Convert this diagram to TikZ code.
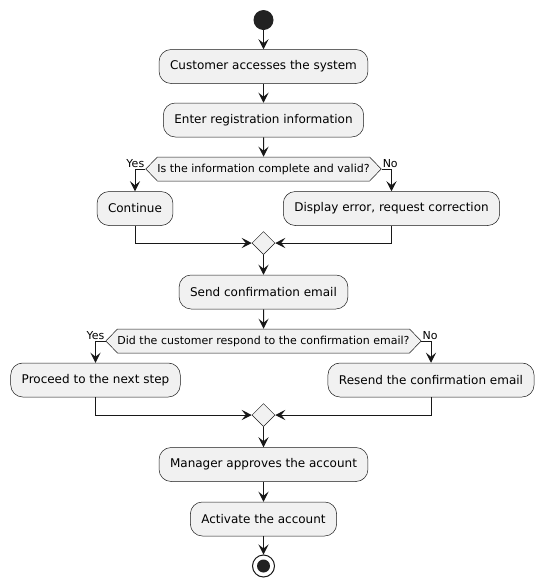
\documentclass[tikz,border=0pt]{standalone}
\usepackage{fontspec}
\setmainfont{DejaVu Sans}
\usetikzlibrary{arrows.meta,shapes.symbols,shapes.geometric}
\definecolor{actfill}{HTML}{F1F1F1}
\definecolor{ink}{HTML}{181818}
\definecolor{dot}{HTML}{222222}

\begin{document}
\begin{tikzpicture}[x=1pt,y=-1pt,
    act/.style={draw=ink, line width=0.5pt, fill=actfill, rounded corners=12pt,
      minimum height=34pt, inner xsep=11pt, font=\fontsize{12}{14}\selectfont},
    cond/.style={draw=ink, line width=0.5pt, fill=actfill, signal,
      signal to=west and east, signal pointer angle=92, inner xsep=0pt,
      minimum height=24pt, font=\fontsize{11}{13}\selectfont},
    merge/.style={draw=ink, line width=0.5pt, fill=actfill, diamond,
      minimum size=23pt, inner sep=0pt},
    flow/.style={draw=ink, line width=1pt,
      -{Stealth[length=10pt,width=10pt,inset=4pt]}},
    lbl/.style={font=\fontsize{11}{13}\selectfont, inner sep=1pt}
  ]
    \useasboundingbox (0,0) rectangle (544,587);

    \node[circle, fill=dot, minimum size=20pt, inner sep=0pt] (start) at (263.5,20) {};
    \node[act] (access) at (263.5,66.5) {Customer accesses the system};
    \node[act] (enter) at (263.5,120) {Enter registration information};
    \node[cond] (valid) at (263.5,169) {Is the information complete and valid?};
    \node[act] (cont) at (135,208.5) {Continue};
    \node[act] (error) at (391.5,208.5) {Display error, request correction};
    \node[merge] (m1) at (263.5,243) {};
    \node[act] (send) at (263.5,292) {Send confirmation email};
    \node[cond] (reply) at (263.5,341) {Did the customer respond to the confirmation email?};
    \node[act] (proceed) at (95.5,380) {Proceed to the next step};
    \node[act] (resend) at (431,380) {Resend the confirmation email};
    \node[merge] (m2) at (263.5,415) {};
    \node[act] (approve) at (263.5,464.5) {Manager approves the account};
    \node[act] (activate) at (263.5,519) {Activate the account};
    \node[circle, draw=ink, line width=1pt, fill=white, minimum size=22pt, inner sep=0pt] (stop) at (263.5,566) {};
    \fill[dot] (stop) circle(6.5pt);

    \node[lbl, anchor=south east] (yes1) at (valid.west) {Yes};
    \node[lbl, anchor=south west] (no1) at (valid.east) {No};
    \node[lbl, anchor=south east] (yes2) at (reply.west) {Yes};
    \node[lbl, anchor=south west] (no2) at (reply.east) {No};

    \foreach \a/\b in {start/access,access/enter,enter/valid,m1/send,send/reply,m2/approve,approve/activate,activate/stop}
    {
      \path (\a) edge[flow] (\b);
    };

    \draw[flow] (valid.west) -| (cont.north);
    \draw[flow] (valid.east) -| (error.north);
    \draw[flow] (cont.south) |- (m1.west);
    \draw[flow] (error.south) |- (m1.east);

    \draw[flow] (reply.west) -| (proceed.north);
    \draw[flow] (reply.east) -| (resend.north);
    \draw[flow] (proceed.south) |- (m2.west);
    \draw[flow] (resend.south) |- (m2.east);
  \end{tikzpicture}
\end{document}
